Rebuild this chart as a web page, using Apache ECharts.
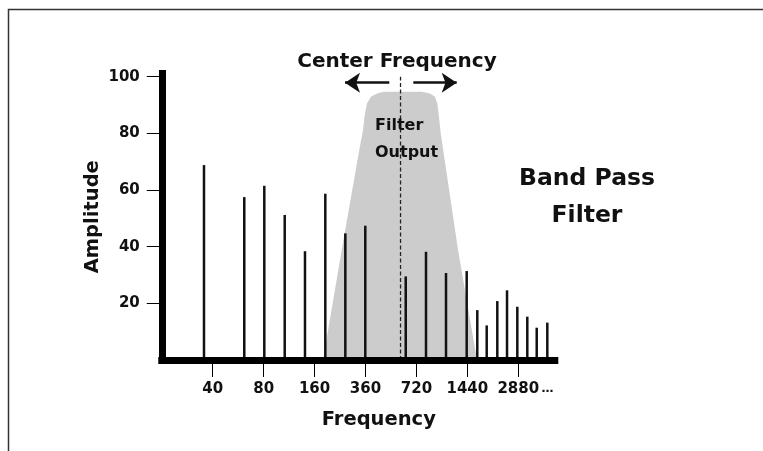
<!DOCTYPE html>
<html>
<head>
<meta charset="utf-8">
<script src="https://cdn.jsdelivr.net/npm/echarts@6/dist/echarts.min.js"></script>
<style>
  html, body { margin: 0; padding: 0; background: #fff; }
  #chart { width: 763px; height: 451px; }
</style>
</head>
<body>
<div id="chart"></div>
<script>
// ---- data ----
const xTickValues = [1, 2, 3, 4, 5, 6, 7];
const xTickLabels = ['40', '80', '160', '360', '720', '1440', '2880'];
const ellipsisPos = 7.574;
const ellipsisLabel = '…';
const yTickValues = [20, 40, 60, 80, 100];

// harmonic positions (in tick units) and amplitudes
const harmonicPos = [0.829, 1.620, 2.013, 2.414, 2.812, 3.211, 3.604, 3.996, 4.790, 5.188,
                     5.581, 5.987, 6.195, 6.380, 6.588, 6.779, 6.981, 7.177, 7.362, 7.570];
const harmonicAmp = [68.8, 57.5, 61.5, 51.2, 38.4, 58.7, 44.7, 47.4, 29.5, 38.2,
                     30.7, 31.4, 17.6, 12.2, 20.8, 24.6, 18.8, 15.3, 11.4, 13.2];

// band pass filter response outline
const filterPos = [3.166, 3.533, 3.878, 3.950, 3.985, 4.030, 4.110, 4.240, 4.363,
                   5.110, 5.266, 5.365, 5.410, 5.443, 5.477, 5.817, 6.190];
const filterAmp = [0, 38.8, 74.1, 81.0, 86.5, 90.6, 93.0, 94.2, 94.7,
                   94.7, 94.1, 92.9, 90.6, 85.9, 80.0, 38.8, 0];

// center frequency marker and arrows
const centerPos = 4.688;
const centerTop = 100;
const arrowAmp = 97.9;
const arrowLeft = [4.467, 3.598];
const arrowRight = [4.939, 5.791];

const FONT = '"DejaVu Sans", sans-serif';
const TXT = '#111';

const chart = echarts.init(document.getElementById('chart'), null, { renderer: 'canvas' });

const option = {
  animation: false,
  backgroundColor: '#ffffff',
  grid: { left: 161.77, top: 73.5, right: 208.2, bottom: 91, containLabel: false },
  xAxis: {
    type: 'value', min: 0, max: 7.717, z: 10,
    splitLine: { show: false },
    axisLine: { show: true, lineStyle: { color: '#000', width: 7, cap: 'square' } },
    axisTick: { show: true, customValues: xTickValues, length: 17, lineStyle: { color: '#000', width: 1 } },
    axisLabel: {
      show: true,
      customValues: xTickValues.concat([ellipsisPos]),
      margin: 21,
      color: TXT, fontFamily: FONT, fontWeight: 'bold', fontSize: 15, lineHeight: 16,
      formatter: function (v) {
        for (let i = 0; i < xTickValues.length; i++) {
          if (Math.abs(v - xTickValues[i]) < 1e-6) return xTickLabels[i];
        }
        return '{dots|' + ellipsisLabel + '}';
      },
      rich: { dots: { fontSize: 12, fontWeight: 'bold', fontFamily: FONT, color: TXT, lineHeight: 16 } }
    },
    name: 'Frequency', nameLocation: 'middle', nameGap: 50, nameMoveOverlap: false,
    nameTextStyle: { color: TXT, fontFamily: FONT, fontWeight: 'bold', fontSize: 19.5, lineHeight: 20, padding: [0, 0, 0, 41] }
  },
  yAxis: {
    type: 'value', min: 0, max: 101.13, z: 10,
    splitLine: { show: false },
    axisLine: { show: true, lineStyle: { color: '#000', width: 7, cap: 'square' } },
    axisTick: { show: true, customValues: yTickValues, length: 15, lineStyle: { color: '#000', width: 1 } },
    axisLabel: {
      show: true, customValues: yTickValues, margin: 22,
      color: TXT, fontFamily: FONT, fontWeight: 'bold', fontSize: 15
    },
    name: 'Amplitude', nameLocation: 'middle', nameGap: 59, nameMoveOverlap: false,
    nameTextStyle: { color: TXT, fontFamily: FONT, fontWeight: 'bold', fontSize: 19.5, lineHeight: 20 }
  },
  series: [
    {
      type: 'line', z: 1, symbol: 'none', silent: true,
      data: filterPos.map((p, i) => [p, filterAmp[i]]),
      lineStyle: { width: 0 },
      areaStyle: { color: '#cccccc', opacity: 1 }
    },
    {
      type: 'line', z: 2, symbol: 'none', silent: true,
      data: [[centerPos, 0], [centerPos, centerTop]],
      lineStyle: { color: '#222', width: 1.3, type: [4, 2.5] }
    },
    {
      type: 'bar', z: 3, barWidth: 2.5,
      data: harmonicPos.map((p, i) => [p, harmonicAmp[i]]),
      itemStyle: { color: '#111' }
    },
    {
      type: 'lines', coordinateSystem: 'cartesian2d', z: 4, silent: true,
      symbol: ['none', 'arrow'], symbolSize: 15,
      lineStyle: { color: '#111', width: 2.5, opacity: 1, curveness: 0 },
      data: [
        { coords: [[arrowLeft[0], arrowAmp], [arrowLeft[1], arrowAmp]] },
        { coords: [[arrowRight[0], arrowAmp], [arrowRight[1], arrowAmp]] }
      ]
    }
  ],
  graphic: [
    { type: 'rect', silent: true, z: -10, shape: { x: 8.5, y: 9.5, width: 900, height: 600 },
      style: { fill: 'none', stroke: '#333', lineWidth: 1.5 } },
    { type: 'text', x: 397, y: 62, silent: true,
      style: { text: 'Center Frequency', fill: TXT, fontFamily: FONT, fontWeight: 'bold', fontSize: 20, align: 'center', verticalAlign: 'middle' } },
    { type: 'text', x: 375, y: 139.4, silent: true, z: 10,
      style: { text: 'Filter\nOutput', fill: TXT, fontFamily: FONT, fontWeight: 'bold', fontSize: 16, lineHeight: 27.8, align: 'left', verticalAlign: 'middle' } },
    { type: 'text', x: 587, y: 197.2, silent: true,
      style: { text: 'Band Pass\nFilter', fill: TXT, fontFamily: FONT, fontWeight: 'bold', fontSize: 23.5, lineHeight: 37.3, align: 'center', verticalAlign: 'middle' } }
  ]
};
chart.setOption(option);
</script>
</body>
</html>
